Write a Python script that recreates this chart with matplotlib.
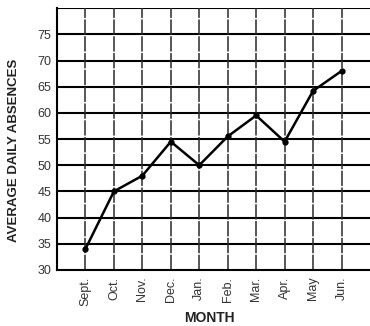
import matplotlib
matplotlib.use("Agg")
import matplotlib.pyplot as plt

months = ["Sept.", "Oct.", "Nov.", "Dec.", "Jan.", "Feb.", "Mar.", "Apr.", "May", "Jun."]
absences = [34, 45, 48, 54.5, 50, 55.5, 59.5, 54.5, 64.2, 68]
yticks = [30, 35, 40, 45, 50, 55, 60, 65, 70, 75]

plt.rcParams['font.family'] = ['Liberation Sans', 'DejaVu Sans']

fig = plt.figure(figsize=(3.70, 3.26), dpi=100)
ax = fig.add_axes([0.154, 0.172, 0.846, 0.803])
x = list(range(len(months)))

ax.set_xlim(-1, 10)
ax.set_ylim(30, 80)
for v in yticks[1:] + [80]:
    ax.axhline(v, color='black', lw=1.5, zorder=1)
for xi in x:
    ax.axvline(xi, color='#2a2a2a', lw=1.1, ls=(0, (10, 1)), zorder=1)

ax.plot(x, absences, color='black', lw=1.8, marker='o', ms=3.5, zorder=3)

ax.set_yticks(yticks)
ax.set_yticklabels([str(v) for v in yticks], fontsize=9, color='#333333')
ax.set_xticks(x)
ax.set_xticklabels(months, rotation=90, fontsize=9, color='#333333')
ax.tick_params(axis='y', length=3, direction='in', width=1.2, pad=4)
ax.tick_params(axis='x', length=0, pad=5)
ax.spines['right'].set_visible(False)
ax.spines['top'].set_visible(False)
for s in ['left', 'bottom']:
    ax.spines[s].set_linewidth(1.5)

ax.set_ylabel("AVERAGE DAILY ABSENCES", fontsize=9.5, fontweight='bold', color='#222222')
ax.yaxis.set_label_coords(-0.118, 0.455)
fig.text(0.567, 0.012, "MONTH", fontsize=10, fontweight='bold', color='#222222', ha='center')

fig.savefig("out.png", dpi=100)
